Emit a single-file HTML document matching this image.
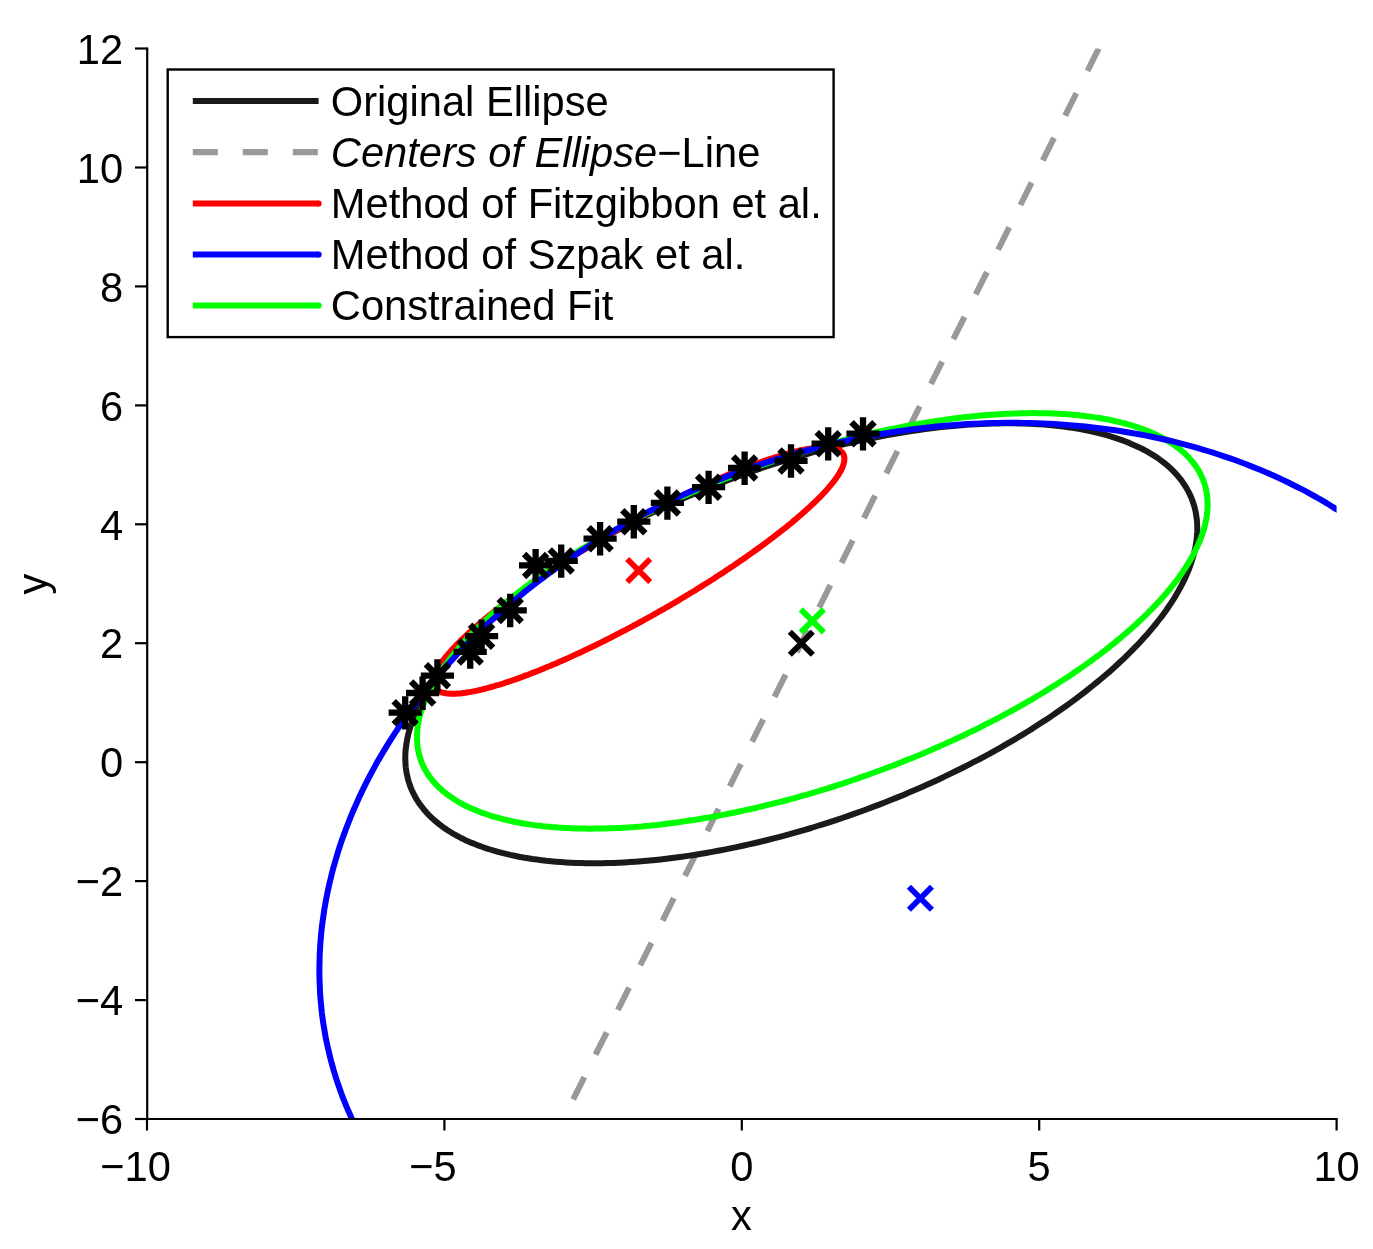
<!DOCTYPE html><html><head><meta charset="utf-8"><title>Ellipse fit</title><style>html,body{margin:0;padding:0;background:#fff}svg{display:block}</style></head><body><svg width="1373" height="1249" viewBox="0 0 1373 1249">
<rect width="1373" height="1249" fill="#fff"/>
<defs><clipPath id="ax"><rect x="147" y="48.5" width="1189.6" height="1070.5"/></clipPath>
<g id="xm"><path d="M-11.5,-11.5L11.5,11.5M-11.5,11.5L11.5,-11.5" fill="none" stroke-width="5.8"/></g>
<g id="st"><path d="M-16.6,0H16.6M0,-16.5V16.9M-11.5,-11.4L11.5,11.6M-11.5,11.6L11.5,-11.4" fill="none" stroke="#000" stroke-width="6.3"/></g>
</defs>
<g clip-path="url(#ax)" fill="none" stroke-linejoin="round">
<path d="M1098.7,48.5L563.4,1119.0" stroke="#999" stroke-width="6" stroke-dasharray="25 25"/>
<path d="M1192.5,500.8 L1193.4,503.5 L1194.3,506.2 L1195.0,508.9 L1195.6,511.7 L1196.1,514.5 L1196.5,517.3 L1196.9,520.1 L1197.1,523.0 L1197.2,525.9 L1197.3,528.9 L1197.2,531.9 L1197.0,534.9 L1196.8,537.9 L1196.4,541.0 L1195.9,544.0 L1195.4,547.1 L1194.7,550.3 L1194.0,553.4 L1193.1,556.6 L1192.2,559.8 L1191.1,563.0 L1190.0,566.2 L1188.8,569.5 L1187.4,572.8 L1186.0,576.1 L1184.5,579.4 L1182.9,582.7 L1181.2,586.0 L1179.3,589.4 L1177.4,592.7 L1175.5,596.1 L1173.4,599.5 L1171.2,602.9 L1168.9,606.3 L1166.6,609.7 L1164.1,613.2 L1161.6,616.6 L1158.9,620.0 L1156.2,623.5 L1153.4,626.9 L1150.5,630.4 L1147.5,633.9 L1144.4,637.3 L1141.3,640.8 L1138.1,644.2 L1134.7,647.7 L1131.3,651.2 L1127.8,654.6 L1124.3,658.1 L1120.6,661.5 L1116.9,665.0 L1113.1,668.4 L1109.2,671.9 L1105.3,675.3 L1101.2,678.7 L1097.1,682.1 L1092.9,685.5 L1088.7,688.9 L1084.4,692.3 L1080.0,695.7 L1075.5,699.1 L1071.0,702.4 L1066.4,705.7 L1061.7,709.0 L1057.0,712.3 L1052.2,715.6 L1047.3,718.9 L1042.4,722.1 L1037.4,725.3 L1032.4,728.6 L1027.3,731.7 L1022.2,734.9 L1017.0,738.0 L1011.7,741.1 L1006.4,744.2 L1001.0,747.3 L995.6,750.3 L990.2,753.4 L984.7,756.3 L979.1,759.3 L973.5,762.2 L967.9,765.1 L962.2,768.0 L956.5,770.8 L950.7,773.6 L944.9,776.4 L939.1,779.2 L933.2,781.9 L927.4,784.5 L921.4,787.2 L915.5,789.8 L909.5,792.3 L903.5,794.9 L897.4,797.4 L891.4,799.8 L885.3,802.2 L879.2,804.6 L873.1,806.9 L866.9,809.2 L860.8,811.5 L854.6,813.7 L848.4,815.9 L842.2,818.0 L836.0,820.1 L829.8,822.1 L823.6,824.1 L817.3,826.0 L811.1,828.0 L804.9,829.8 L798.6,831.6 L792.4,833.4 L786.2,835.1 L779.9,836.8 L773.7,838.4 L767.5,840.0 L761.3,841.5 L755.1,843.0 L748.9,844.4 L742.7,845.8 L736.6,847.1 L730.4,848.4 L724.3,849.6 L718.2,850.8 L712.1,851.9 L706.0,853.0 L700.0,854.0 L694.0,855.0 L688.0,855.9 L682.0,856.7 L676.1,857.5 L670.2,858.3 L664.3,859.0 L658.5,859.7 L652.7,860.3 L646.9,860.8 L641.2,861.3 L635.5,861.7 L629.9,862.1 L624.3,862.4 L618.7,862.7 L613.2,862.9 L607.8,863.1 L602.4,863.2 L597.0,863.2 L591.7,863.2 L586.4,863.2 L581.2,863.1 L576.0,862.9 L570.9,862.7 L565.9,862.4 L560.9,862.1 L556.0,861.7 L551.1,861.2 L546.3,860.8 L541.6,860.2 L536.9,859.6 L532.3,859.0 L527.8,858.2 L523.3,857.5 L518.9,856.7 L514.5,855.8 L510.3,854.9 L506.1,853.9 L502.0,852.9 L497.9,851.8 L493.9,850.7 L490.0,849.5 L486.2,848.3 L482.5,847.0 L478.8,845.7 L475.3,844.3 L471.8,842.9 L468.3,841.4 L465.0,839.9 L461.8,838.3 L458.6,836.6 L455.5,835.0 L452.5,833.3 L449.6,831.5 L446.8,829.7 L444.0,827.8 L441.4,825.9 L438.8,823.9 L436.4,821.9 L434.0,819.9 L431.7,817.8 L429.5,815.7 L427.4,813.5 L425.4,811.3 L423.5,809.0 L421.7,806.7 L419.9,804.4 L418.3,802.0 L416.8,799.6 L415.3,797.2 L414.0,794.7 L412.7,792.1 L411.6,789.6 L410.5,787.0 L409.6,784.3 L408.7,781.6 L407.9,778.9 L407.3,776.2 L406.7,773.4 L406.2,770.6 L405.8,767.8 L405.6,764.9 L405.4,762.0 L405.3,759.1 L405.3,756.1 L405.4,753.1 L405.6,750.1 L406.0,747.1 L406.4,744.0 L406.9,740.9 L407.5,737.8 L408.2,734.6 L409.0,731.5 L409.9,728.3 L410.9,725.1 L412.0,721.9 L413.2,718.6 L414.4,715.4 L415.8,712.1 L417.3,708.8 L418.9,705.5 L420.5,702.1 L422.3,698.8 L424.1,695.4 L426.1,692.1 L428.1,688.7 L430.3,685.3 L432.5,681.9 L434.8,678.5 L437.2,675.0 L439.7,671.6 L442.3,668.2 L445.0,664.7 L447.7,661.3 L450.6,657.8 L453.5,654.4 L456.6,650.9 L459.7,647.4 L462.9,644.0 L466.2,640.5 L469.5,637.0 L473.0,633.6 L476.5,630.1 L480.1,626.7 L483.8,623.2 L487.5,619.8 L491.4,616.3 L495.3,612.9 L499.3,609.5 L503.4,606.0 L507.5,602.6 L511.7,599.2 L516.0,595.8 L520.4,592.5 L524.8,589.1 L529.3,585.8 L533.9,582.4 L538.5,579.1 L543.2,575.8 L548.0,572.5 L552.8,569.2 L557.7,566.0 L562.6,562.7 L567.6,559.5 L572.7,556.3 L577.8,553.2 L583.0,550.0 L588.2,546.9 L593.5,543.8 L598.8,540.7 L604.2,537.7 L609.7,534.6 L615.1,531.6 L620.7,528.7 L626.2,525.7 L631.9,522.8 L637.5,519.9 L643.2,517.1 L648.9,514.2 L654.7,511.5 L660.5,508.7 L666.4,506.0 L672.3,503.3 L678.2,500.6 L684.1,498.0 L690.1,495.4 L696.1,492.9 L702.1,490.4 L708.1,487.9 L714.2,485.5 L720.3,483.1 L726.4,480.7 L732.6,478.4 L738.7,476.1 L744.9,473.9 L751.1,471.7 L757.2,469.6 L763.4,467.4 L769.7,465.4 L775.9,463.4 L782.1,461.4 L788.3,459.5 L794.6,457.6 L800.8,455.8 L807.0,454.0 L813.3,452.2 L819.5,450.5 L825.7,448.9 L832.0,447.3 L838.2,445.7 L844.4,444.2 L850.6,442.8 L856.7,441.4 L862.9,440.0 L869.1,438.7 L875.2,437.5 L881.3,436.3 L887.4,435.1 L893.5,434.0 L899.5,433.0 L905.6,432.0 L911.6,431.1 L917.5,430.2 L923.5,429.3 L929.4,428.5 L935.3,427.8 L941.1,427.1 L947.0,426.5 L952.7,426.0 L958.5,425.4 L964.2,425.0 L969.8,424.6 L975.5,424.2 L981.0,423.9 L986.6,423.7 L992.1,423.5 L997.5,423.4 L1002.9,423.3 L1008.2,423.3 L1013.5,423.3 L1018.8,423.4 L1024.0,423.5 L1029.1,423.7 L1034.2,423.9 L1039.2,424.2 L1044.1,424.6 L1049.0,425.0 L1053.8,425.5 L1058.6,426.0 L1063.3,426.6 L1068.0,427.2 L1072.5,427.9 L1077.1,428.6 L1081.5,429.4 L1085.9,430.2 L1090.2,431.1 L1094.4,432.1 L1098.6,433.1 L1102.6,434.1 L1106.6,435.2 L1110.6,436.4 L1114.4,437.6 L1118.2,438.8 L1121.9,440.1 L1125.5,441.5 L1129.1,442.9 L1132.5,444.4 L1135.9,445.9 L1139.2,447.4 L1142.4,449.0 L1145.5,450.7 L1148.6,452.4 L1151.5,454.1 L1154.4,455.9 L1157.2,457.7 L1159.8,459.6 L1162.5,461.6 L1165.0,463.5 L1167.4,465.6 L1169.7,467.6 L1172.0,469.7 L1174.1,471.9 L1176.2,474.1 L1178.1,476.3 L1180.0,478.6 L1181.8,480.9 L1183.4,483.3 L1185.0,485.7 L1186.5,488.1 L1187.9,490.6 L1189.2,493.1 L1190.4,495.6 L1191.5,498.2 L1192.5,500.8Z" stroke="#1a1a1a" stroke-width="6"/>
<path d="M434.3,687.2 L434.0,686.7 L433.8,686.3 L433.6,685.9 L433.5,685.4 L433.3,684.9 L433.2,684.4 L433.1,683.9 L433.1,683.4 L433.0,682.9 L433.0,682.4 L433.0,681.8 L433.0,681.3 L433.1,680.7 L433.1,680.1 L433.2,679.5 L433.3,678.9 L433.5,678.3 L433.6,677.6 L433.8,677.0 L434.0,676.3 L434.2,675.7 L434.5,675.0 L434.8,674.3 L435.0,673.6 L435.4,672.9 L435.7,672.1 L436.1,671.4 L436.4,670.7 L436.8,669.9 L437.3,669.1 L437.7,668.3 L438.2,667.6 L438.7,666.7 L439.2,665.9 L439.7,665.1 L440.3,664.3 L440.9,663.4 L441.5,662.6 L442.1,661.7 L442.7,660.8 L443.4,660.0 L444.1,659.1 L444.8,658.2 L445.5,657.2 L446.3,656.3 L447.1,655.4 L447.9,654.4 L448.7,653.5 L449.5,652.5 L450.4,651.6 L451.2,650.6 L452.1,649.6 L453.1,648.6 L454.0,647.6 L455.0,646.6 L455.9,645.6 L456.9,644.5 L458.0,643.5 L459.0,642.4 L460.1,641.4 L461.1,640.3 L462.2,639.3 L463.4,638.2 L464.5,637.1 L465.7,636.0 L466.8,634.9 L468.0,633.8 L469.2,632.7 L470.5,631.6 L471.7,630.4 L473.0,629.3 L474.3,628.2 L475.6,627.0 L476.9,625.9 L478.2,624.7 L479.6,623.6 L481.0,622.4 L482.4,621.2 L483.8,620.0 L485.2,618.8 L486.7,617.6 L488.1,616.4 L489.6,615.2 L491.1,614.0 L492.6,612.8 L494.1,611.6 L495.7,610.4 L497.2,609.2 L498.8,607.9 L500.4,606.7 L502.0,605.5 L503.6,604.2 L505.3,603.0 L506.9,601.7 L508.6,600.5 L510.2,599.2 L511.9,598.0 L513.6,596.7 L515.4,595.4 L517.1,594.2 L518.8,592.9 L520.6,591.6 L522.4,590.3 L524.2,589.1 L526.0,587.8 L527.8,586.5 L529.6,585.2 L531.4,583.9 L533.3,582.7 L535.1,581.4 L537.0,580.1 L538.9,578.8 L540.8,577.5 L542.7,576.2 L544.6,574.9 L546.5,573.6 L548.5,572.3 L550.4,571.0 L552.4,569.7 L554.3,568.4 L556.3,567.2 L558.3,565.9 L560.3,564.6 L562.3,563.3 L564.3,562.0 L566.3,560.7 L568.3,559.4 L570.3,558.1 L572.4,556.8 L574.4,555.6 L576.5,554.3 L578.5,553.0 L580.6,551.7 L582.7,550.4 L584.8,549.2 L586.8,547.9 L588.9,546.6 L591.0,545.4 L593.1,544.1 L595.2,542.8 L597.3,541.6 L599.5,540.3 L601.6,539.1 L603.7,537.8 L605.8,536.6 L608.0,535.3 L610.1,534.1 L612.2,532.9 L614.4,531.6 L616.5,530.4 L618.7,529.2 L620.8,528.0 L623.0,526.8 L625.1,525.5 L627.3,524.3 L629.4,523.1 L631.6,522.0 L633.7,520.8 L635.9,519.6 L638.1,518.4 L640.2,517.2 L642.4,516.1 L644.5,514.9 L646.7,513.8 L648.8,512.6 L651.0,511.5 L653.2,510.4 L655.3,509.2 L657.5,508.1 L659.6,507.0 L661.7,505.9 L663.9,504.8 L666.0,503.7 L668.2,502.6 L670.3,501.6 L672.4,500.5 L674.6,499.4 L676.7,498.4 L678.8,497.3 L680.9,496.3 L683.0,495.3 L685.1,494.2 L687.2,493.2 L689.3,492.2 L691.4,491.2 L693.5,490.2 L695.6,489.3 L697.6,488.3 L699.7,487.3 L701.8,486.4 L703.8,485.5 L705.9,484.5 L707.9,483.6 L709.9,482.7 L711.9,481.8 L713.9,480.9 L716.0,480.0 L717.9,479.1 L719.9,478.3 L721.9,477.4 L723.9,476.6 L725.8,475.7 L727.8,474.9 L729.7,474.1 L731.7,473.3 L733.6,472.5 L735.5,471.7 L737.4,471.0 L739.3,470.2 L741.2,469.5 L743.0,468.7 L744.9,468.0 L746.7,467.3 L748.5,466.6 L750.4,465.9 L752.2,465.2 L754.0,464.6 L755.7,463.9 L757.5,463.3 L759.3,462.6 L761.0,462.0 L762.7,461.4 L764.4,460.8 L766.1,460.2 L767.8,459.7 L769.5,459.1 L771.2,458.5 L772.8,458.0 L774.4,457.5 L776.1,457.0 L777.7,456.5 L779.2,456.0 L780.8,455.5 L782.4,455.1 L783.9,454.6 L785.4,454.2 L786.9,453.8 L788.4,453.3 L789.9,453.0 L791.3,452.6 L792.8,452.2 L794.2,451.8 L795.6,451.5 L797.0,451.2 L798.3,450.9 L799.7,450.5 L801.0,450.3 L802.4,450.0 L803.6,449.7 L804.9,449.5 L806.2,449.2 L807.4,449.0 L808.7,448.8 L809.9,448.6 L811.1,448.4 L812.2,448.2 L813.4,448.1 L814.5,447.9 L815.6,447.8 L816.7,447.7 L817.8,447.6 L818.8,447.5 L819.9,447.4 L820.9,447.3 L821.9,447.3 L822.8,447.3 L823.8,447.2 L824.7,447.2 L825.6,447.2 L826.5,447.3 L827.4,447.3 L828.2,447.3 L829.1,447.4 L829.9,447.5 L830.7,447.5 L831.4,447.6 L832.2,447.8 L832.9,447.9 L833.6,448.0 L834.3,448.2 L834.9,448.3 L835.6,448.5 L836.2,448.7 L836.8,448.9 L837.3,449.1 L837.9,449.4 L838.4,449.6 L838.9,449.9 L839.4,450.2 L839.9,450.4 L840.3,450.7 L840.7,451.1 L841.1,451.4 L841.5,451.7 L841.8,452.1 L842.2,452.4 L842.5,452.8 L842.8,453.2 L843.0,453.6 L843.3,454.0 L843.5,454.5 L843.7,454.9 L843.8,455.4 L844.0,455.8 L844.1,456.3 L844.2,456.8 L844.3,457.3 L844.4,457.8 L844.4,458.4 L844.4,458.9 L844.4,459.5 L844.4,460.0 L844.3,460.6 L844.2,461.2 L844.1,461.8 L844.0,462.4 L843.9,463.1 L843.7,463.7 L843.5,464.3 L843.3,465.0 L843.0,465.7 L842.8,466.4 L842.5,467.1 L842.2,467.8 L841.9,468.5 L841.5,469.2 L841.2,470.0 L840.8,470.7 L840.3,471.5 L839.9,472.3 L839.5,473.1 L839.0,473.8 L838.5,474.7 L837.9,475.5 L837.4,476.3 L836.8,477.1 L836.2,478.0 L835.6,478.9 L835.0,479.7 L834.3,480.6 L833.7,481.5 L833.0,482.4 L832.2,483.3 L831.5,484.2 L830.7,485.1 L829.9,486.1 L829.1,487.0 L828.3,488.0 L827.5,489.0 L826.6,489.9 L825.7,490.9 L824.8,491.9 L823.9,492.9 L822.9,493.9 L822.0,494.9 L821.0,496.0 L820.0,497.0 L818.9,498.0 L817.9,499.1 L816.8,500.1 L815.7,501.2 L814.6,502.3 L813.5,503.4 L812.3,504.4 L811.2,505.5 L810.0,506.6 L808.8,507.8 L807.5,508.9 L806.3,510.0 L805.0,511.1 L803.8,512.3 L802.5,513.4 L801.2,514.5 L799.8,515.7 L798.5,516.9 L797.1,518.0 L795.7,519.2 L794.3,520.4 L792.9,521.6 L791.5,522.8 L790.0,524.0 L788.5,525.2 L787.1,526.4 L785.6,527.6 L784.0,528.8 L782.5,530.0 L780.9,531.2 L779.4,532.5 L777.8,533.7 L776.2,534.9 L774.6,536.2 L773.0,537.4 L771.3,538.7 L769.7,539.9 L768.0,541.2 L766.3,542.4 L764.6,543.7 L762.9,544.9 L761.2,546.2 L759.4,547.5 L757.7,548.7 L755.9,550.0 L754.1,551.3 L752.3,552.6 L750.5,553.9 L748.7,555.1 L746.9,556.4 L745.0,557.7 L743.2,559.0 L741.3,560.3 L739.4,561.6 L737.6,562.9 L735.7,564.1 L733.8,565.4 L731.8,566.7 L729.9,568.0 L728.0,569.3 L726.0,570.6 L724.1,571.9 L722.1,573.2 L720.1,574.5 L718.1,575.8 L716.1,577.1 L714.1,578.4 L712.1,579.7 L710.1,580.9 L708.1,582.2 L706.0,583.5 L704.0,584.8 L701.9,586.1 L699.9,587.4 L697.8,588.6 L695.8,589.9 L693.7,591.2 L691.6,592.5 L689.5,593.7 L687.4,595.0 L685.3,596.3 L683.2,597.5 L681.1,598.8 L679.0,600.1 L676.9,601.3 L674.8,602.6 L672.6,603.8 L670.5,605.1 L668.4,606.3 L666.2,607.5 L664.1,608.8 L661.9,610.0 L659.8,611.2 L657.7,612.4 L655.5,613.6 L653.4,614.9 L651.2,616.1 L649.0,617.3 L646.9,618.4 L644.7,619.6 L642.6,620.8 L640.4,622.0 L638.3,623.2 L636.1,624.3 L633.9,625.5 L631.8,626.6 L629.6,627.8 L627.5,628.9 L625.3,630.1 L623.2,631.2 L621.0,632.3 L618.9,633.4 L616.7,634.5 L614.6,635.6 L612.4,636.7 L610.3,637.8 L608.2,638.9 L606.0,640.0 L603.9,641.0 L601.8,642.1 L599.7,643.2 L597.5,644.2 L595.4,645.2 L593.3,646.2 L591.2,647.3 L589.1,648.3 L587.0,649.3 L584.9,650.3 L582.9,651.2 L580.8,652.2 L578.7,653.2 L576.7,654.1 L574.6,655.1 L572.6,656.0 L570.5,656.9 L568.5,657.9 L566.5,658.8 L564.5,659.7 L562.4,660.6 L560.4,661.4 L558.5,662.3 L556.5,663.2 L554.5,664.0 L552.5,664.8 L550.6,665.7 L548.6,666.5 L546.7,667.3 L544.8,668.1 L542.9,668.9 L541.0,669.6 L539.1,670.4 L537.2,671.2 L535.3,671.9 L533.5,672.6 L531.6,673.3 L529.8,674.1 L527.9,674.8 L526.1,675.4 L524.3,676.1 L522.5,676.8 L520.8,677.4 L519.0,678.1 L517.3,678.7 L515.5,679.3 L513.8,679.9 L512.1,680.5 L510.4,681.1 L508.7,681.6 L507.1,682.2 L505.4,682.7 L503.8,683.3 L502.2,683.8 L500.5,684.3 L499.0,684.8 L497.4,685.2 L495.8,685.7 L494.3,686.2 L492.7,686.6 L491.2,687.0 L489.7,687.4 L488.3,687.9 L486.8,688.2 L485.3,688.6 L483.9,689.0 L482.5,689.3 L481.1,689.7 L479.7,690.0 L478.4,690.3 L477.0,690.6 L475.7,690.9 L474.4,691.2 L473.1,691.4 L471.8,691.7 L470.6,691.9 L469.4,692.1 L468.1,692.3 L466.9,692.5 L465.8,692.7 L464.6,692.8 L463.5,693.0 L462.3,693.1 L461.2,693.3 L460.2,693.4 L459.1,693.5 L458.1,693.6 L457.0,693.6 L456.0,693.7 L455.1,693.7 L454.1,693.8 L453.1,693.8 L452.2,693.8 L451.3,693.8 L450.4,693.7 L449.6,693.7 L448.7,693.6 L447.9,693.6 L447.1,693.5 L446.4,693.4 L445.6,693.3 L444.9,693.2 L444.2,693.0 L443.5,692.9 L442.8,692.7 L442.2,692.6 L441.5,692.4 L440.9,692.2 L440.3,692.0 L439.8,691.7 L439.2,691.5 L438.7,691.2 L438.2,691.0 L437.8,690.7 L437.3,690.4 L436.9,690.1 L436.5,689.8 L436.1,689.4 L435.7,689.1 L435.4,688.7 L435.1,688.4 L434.8,688.0 L434.5,687.6 L434.3,687.2Z" stroke="#f00" stroke-width="6"/>
<path d="M420.8,760.1 L420.3,758.4 L419.8,756.8 L419.3,755.2 L418.9,753.5 L418.5,751.8 L418.1,750.1 L417.9,748.4 L417.6,746.7 L417.4,744.9 L417.2,743.2 L417.1,741.4 L417.0,739.6 L417.0,737.8 L417.0,736.0 L417.1,734.2 L417.2,732.4 L417.3,730.5 L417.5,728.6 L417.7,726.8 L418.0,724.9 L418.3,723.0 L418.7,721.1 L419.1,719.2 L419.5,717.3 L420.0,715.3 L420.5,713.4 L421.1,711.4 L421.7,709.5 L422.4,707.5 L423.1,705.5 L423.8,703.5 L424.6,701.5 L425.4,699.5 L426.3,697.5 L427.2,695.4 L428.2,693.4 L429.2,691.3 L430.2,689.3 L431.3,687.2 L432.4,685.2 L433.6,683.1 L434.8,681.0 L436.1,678.9 L437.4,676.8 L438.7,674.7 L440.1,672.6 L441.5,670.5 L442.9,668.4 L444.4,666.3 L446.0,664.1 L447.6,662.0 L449.2,659.9 L450.8,657.7 L452.5,655.6 L454.3,653.4 L456.0,651.3 L457.9,649.1 L459.7,646.9 L461.6,644.8 L463.5,642.6 L465.5,640.4 L467.5,638.3 L469.6,636.1 L471.7,633.9 L473.8,631.7 L475.9,629.6 L478.1,627.4 L480.4,625.2 L482.6,623.0 L485.0,620.9 L487.3,618.7 L489.7,616.5 L492.1,614.3 L494.5,612.1 L497.0,610.0 L499.5,607.8 L502.1,605.6 L504.7,603.4 L507.3,601.3 L510.0,599.1 L512.6,596.9 L515.4,594.8 L518.1,592.6 L520.9,590.5 L523.7,588.3 L526.6,586.2 L529.4,584.0 L532.4,581.9 L535.3,579.7 L538.3,577.6 L541.3,575.5 L544.3,573.3 L547.4,571.2 L550.5,569.1 L553.6,567.0 L556.7,564.9 L559.9,562.8 L563.1,560.7 L566.4,558.6 L569.6,556.6 L572.9,554.5 L576.2,552.4 L579.6,550.4 L582.9,548.3 L586.3,546.3 L589.7,544.3 L593.2,542.2 L596.6,540.2 L600.1,538.2 L603.6,536.2 L607.2,534.2 L610.7,532.3 L614.3,530.3 L617.9,528.3 L621.5,526.4 L625.1,524.5 L628.8,522.5 L632.5,520.6 L636.2,518.7 L639.9,516.8 L643.7,514.9 L647.4,513.1 L651.2,511.2 L655.0,509.4 L658.8,507.5 L662.6,505.7 L666.5,503.9 L670.3,502.1 L674.2,500.3 L678.1,498.6 L682.0,496.8 L685.9,495.1 L689.9,493.3 L693.8,491.6 L697.8,489.9 L701.8,488.2 L705.7,486.6 L709.7,484.9 L713.8,483.3 L717.8,481.7 L721.8,480.0 L725.9,478.5 L729.9,476.9 L734.0,475.3 L738.0,473.8 L742.1,472.2 L746.2,470.7 L750.3,469.2 L754.4,467.7 L758.5,466.3 L762.6,464.8 L766.7,463.4 L770.8,462.0 L775.0,460.6 L779.1,459.2 L783.2,457.9 L787.4,456.5 L791.5,455.2 L795.6,453.9 L799.8,452.6 L803.9,451.3 L808.1,450.1 L812.2,448.9 L816.4,447.6 L820.5,446.4 L824.7,445.3 L828.8,444.1 L832.9,443.0 L837.1,441.9 L841.2,440.8 L845.4,439.7 L849.5,438.6 L853.6,437.6 L857.7,436.6 L861.9,435.6 L866.0,434.6 L870.1,433.7 L874.2,432.7 L878.3,431.8 L882.3,430.9 L886.4,430.0 L890.5,429.2 L894.5,428.4 L898.6,427.6 L902.6,426.8 L906.7,426.0 L910.7,425.3 L914.7,424.5 L918.7,423.8 L922.7,423.2 L926.7,422.5 L930.6,421.9 L934.6,421.3 L938.5,420.7 L942.4,420.1 L946.3,419.5 L950.2,419.0 L954.1,418.5 L958.0,418.0 L961.8,417.6 L965.7,417.1 L969.5,416.7 L973.3,416.3 L977.0,416.0 L980.8,415.6 L984.5,415.3 L988.3,415.0 L992.0,414.7 L995.7,414.5 L999.3,414.2 L1003.0,414.0 L1006.6,413.8 L1010.2,413.7 L1013.8,413.5 L1017.3,413.4 L1020.9,413.3 L1024.4,413.2 L1027.9,413.2 L1031.3,413.1 L1034.8,413.1 L1038.2,413.2 L1041.6,413.2 L1044.9,413.3 L1048.3,413.3 L1051.6,413.5 L1054.9,413.6 L1058.1,413.7 L1061.4,413.9 L1064.6,414.1 L1067.7,414.3 L1070.9,414.6 L1074.0,414.9 L1077.1,415.1 L1080.2,415.5 L1083.2,415.8 L1086.2,416.2 L1089.2,416.5 L1092.1,416.9 L1095.0,417.4 L1097.9,417.8 L1100.8,418.3 L1103.6,418.8 L1106.4,419.3 L1109.1,419.8 L1111.9,420.4 L1114.5,421.0 L1117.2,421.6 L1119.8,422.2 L1122.4,422.9 L1125.0,423.5 L1127.5,424.2 L1130.0,424.9 L1132.4,425.7 L1134.8,426.4 L1137.2,427.2 L1139.6,428.0 L1141.9,428.8 L1144.1,429.7 L1146.4,430.5 L1148.6,431.4 L1150.7,432.3 L1152.9,433.2 L1154.9,434.2 L1157.0,435.1 L1159.0,436.1 L1161.0,437.1 L1162.9,438.2 L1164.8,439.2 L1166.7,440.3 L1168.5,441.4 L1170.3,442.5 L1172.0,443.6 L1173.7,444.7 L1175.4,445.9 L1177.0,447.1 L1178.6,448.3 L1180.1,449.5 L1181.6,450.8 L1183.1,452.0 L1184.5,453.3 L1185.9,454.6 L1187.2,455.9 L1188.5,457.2 L1189.7,458.6 L1190.9,460.0 L1192.1,461.3 L1193.2,462.8 L1194.3,464.2 L1195.4,465.6 L1196.4,467.1 L1197.3,468.5 L1198.3,470.0 L1199.1,471.5 L1200.0,473.1 L1200.8,474.6 L1201.5,476.2 L1202.2,477.7 L1202.9,479.3 L1203.5,480.9 L1204.1,482.5 L1204.6,484.2 L1205.1,485.8 L1205.5,487.5 L1205.9,489.2 L1206.3,490.9 L1206.6,492.6 L1206.9,494.3 L1207.1,496.0 L1207.3,497.8 L1207.4,499.5 L1207.5,501.3 L1207.6,503.1 L1207.6,504.9 L1207.6,506.7 L1207.5,508.5 L1207.4,510.4 L1207.2,512.2 L1207.0,514.1 L1206.8,516.0 L1206.5,517.8 L1206.1,519.7 L1205.7,521.7 L1205.3,523.6 L1204.9,525.5 L1204.4,527.4 L1203.8,529.4 L1203.2,531.4 L1202.6,533.3 L1201.9,535.3 L1201.2,537.3 L1200.4,539.3 L1199.6,541.3 L1198.7,543.3 L1197.8,545.4 L1196.9,547.4 L1195.9,549.4 L1194.9,551.5 L1193.8,553.5 L1192.7,555.6 L1191.6,557.7 L1190.4,559.8 L1189.2,561.8 L1187.9,563.9 L1186.6,566.0 L1185.2,568.1 L1183.8,570.2 L1182.4,572.4 L1180.9,574.5 L1179.4,576.6 L1177.8,578.7 L1176.2,580.9 L1174.6,583.0 L1172.9,585.2 L1171.2,587.3 L1169.4,589.5 L1167.6,591.6 L1165.8,593.8 L1163.9,595.9 L1162.0,598.1 L1160.1,600.3 L1158.1,602.4 L1156.1,604.6 L1154.0,606.8 L1151.9,609.0 L1149.7,611.1 L1147.6,613.3 L1145.3,615.5 L1143.1,617.7 L1140.8,619.9 L1138.5,622.0 L1136.1,624.2 L1133.7,626.4 L1131.3,628.6 L1128.8,630.7 L1126.3,632.9 L1123.8,635.1 L1121.2,637.3 L1118.6,639.4 L1116.0,641.6 L1113.3,643.8 L1110.6,645.9 L1107.9,648.1 L1105.1,650.3 L1102.3,652.4 L1099.5,654.6 L1096.6,656.7 L1093.7,658.9 L1090.8,661.0 L1087.8,663.1 L1084.8,665.3 L1081.8,667.4 L1078.8,669.5 L1075.7,671.6 L1072.6,673.8 L1069.4,675.9 L1066.3,678.0 L1063.1,680.0 L1059.9,682.1 L1056.6,684.2 L1053.3,686.3 L1050.0,688.3 L1046.7,690.4 L1043.4,692.5 L1040.0,694.5 L1036.6,696.5 L1033.2,698.6 L1029.7,700.6 L1026.2,702.6 L1022.7,704.6 L1019.2,706.6 L1015.7,708.6 L1012.1,710.5 L1008.5,712.5 L1004.9,714.4 L1001.3,716.4 L997.6,718.3 L994.0,720.2 L990.3,722.1 L986.5,724.0 L982.8,725.9 L979.1,727.8 L975.3,729.7 L971.5,731.5 L967.7,733.3 L963.9,735.2 L960.0,737.0 L956.2,738.8 L952.3,740.6 L948.4,742.3 L944.5,744.1 L940.6,745.9 L936.7,747.6 L932.8,749.3 L928.8,751.0 L924.8,752.7 L920.8,754.4 L916.9,756.0 L912.8,757.7 L908.8,759.3 L904.8,760.9 L900.8,762.5 L896.7,764.1 L892.7,765.7 L888.6,767.3 L884.5,768.8 L880.5,770.3 L876.4,771.8 L872.3,773.3 L868.2,774.8 L864.1,776.2 L859.9,777.7 L855.8,779.1 L851.7,780.5 L847.6,781.9 L843.4,783.3 L839.3,784.6 L835.2,785.9 L831.0,787.3 L826.9,788.6 L822.7,789.8 L818.6,791.1 L814.4,792.3 L810.3,793.6 L806.2,794.8 L802.0,795.9 L797.9,797.1 L793.7,798.3 L789.6,799.4 L785.4,800.5 L781.3,801.6 L777.2,802.6 L773.0,803.7 L768.9,804.7 L764.8,805.7 L760.7,806.7 L756.6,807.7 L752.5,808.6 L748.4,809.5 L744.3,810.4 L740.2,811.3 L736.1,812.2 L732.1,813.0 L728.0,813.8 L724.0,814.6 L719.9,815.4 L715.9,816.2 L711.9,816.9 L707.9,817.6 L703.9,818.3 L699.9,819.0 L696.0,819.6 L692.0,820.2 L688.1,820.8 L684.1,821.4 L680.2,822.0 L676.3,822.5 L672.4,823.0 L668.5,823.5 L664.7,824.0 L660.9,824.4 L657.0,824.9 L653.2,825.3 L649.4,825.7 L645.7,826.0 L641.9,826.4 L638.2,826.7 L634.5,827.0 L630.8,827.2 L627.1,827.5 L623.5,827.7 L619.8,827.9 L616.2,828.1 L612.6,828.2 L609.1,828.3 L605.5,828.5 L602.0,828.5 L598.5,828.6 L595.0,828.6 L591.6,828.7 L588.1,828.7 L584.7,828.6 L581.4,828.6 L578.0,828.5 L574.7,828.4 L571.4,828.3 L568.1,828.1 L564.9,828.0 L561.6,827.8 L558.4,827.6 L555.3,827.3 L552.1,827.1 L549.0,826.8 L546.0,826.5 L542.9,826.2 L539.9,825.8 L536.9,825.5 L533.9,825.1 L531.0,824.6 L528.1,824.2 L525.2,823.7 L522.4,823.3 L519.6,822.8 L516.8,822.2 L514.1,821.7 L511.4,821.1 L508.7,820.5 L506.1,819.9 L503.5,819.3 L500.9,818.6 L498.4,817.9 L495.9,817.2 L493.4,816.5 L491.0,815.8 L488.6,815.0 L486.2,814.2 L483.9,813.4 L481.6,812.6 L479.3,811.7 L477.1,810.8 L474.9,809.9 L472.8,809.0 L470.7,808.1 L468.6,807.1 L466.6,806.2 L464.6,805.2 L462.6,804.2 L460.7,803.1 L458.9,802.1 L457.0,801.0 L455.2,799.9 L453.5,798.8 L451.7,797.6 L450.1,796.5 L448.4,795.3 L446.8,794.1 L445.3,792.9 L443.7,791.7 L442.3,790.4 L440.8,789.1 L439.4,787.9 L438.1,786.6 L436.8,785.2 L435.5,783.9 L434.3,782.5 L433.1,781.1 L431.9,779.8 L430.8,778.3 L429.7,776.9 L428.7,775.5 L427.7,774.0 L426.8,772.5 L425.9,771.0 L425.0,769.5 L424.2,768.0 L423.5,766.4 L422.7,764.9 L422.1,763.3 L421.4,761.7 L420.8,760.1Z" stroke="#0f0" stroke-width="6"/>
<path d="M333.6,1070.1 L332.3,1065.4 L331.0,1060.7 L329.8,1056.0 L328.7,1051.3 L327.6,1046.6 L326.6,1041.9 L325.6,1037.1 L324.8,1032.3 L324.0,1027.5 L323.2,1022.7 L322.5,1017.9 L321.9,1013.1 L321.4,1008.2 L320.9,1003.4 L320.5,998.5 L320.1,993.6 L319.9,988.7 L319.7,983.8 L319.5,978.9 L319.4,974.0 L319.4,969.1 L319.5,964.1 L319.6,959.2 L319.7,954.2 L320.0,949.3 L320.3,944.3 L320.7,939.4 L321.1,934.4 L321.6,929.4 L322.2,924.4 L322.9,919.5 L323.6,914.5 L324.3,909.5 L325.2,904.5 L326.1,899.5 L327.1,894.5 L328.1,889.6 L329.2,884.6 L330.4,879.6 L331.6,874.6 L332.9,869.6 L334.3,864.6 L335.7,859.7 L337.2,854.7 L338.7,849.7 L340.3,844.8 L342.0,839.8 L343.8,834.9 L345.6,829.9 L347.5,825.0 L349.4,820.1 L351.4,815.2 L353.4,810.3 L355.6,805.4 L357.8,800.5 L360.0,795.6 L362.3,790.8 L364.7,785.9 L367.1,781.1 L369.6,776.2 L372.2,771.4 L374.8,766.6 L377.4,761.8 L380.2,757.1 L383.0,752.3 L385.8,747.6 L388.7,742.9 L391.7,738.2 L394.7,733.5 L397.8,728.8 L401.0,724.1 L404.1,719.5 L407.4,714.9 L410.7,710.3 L414.1,705.7 L417.5,701.2 L421.0,696.7 L424.5,692.2 L428.1,687.7 L431.8,683.2 L435.5,678.8 L439.2,674.4 L443.0,670.0 L446.9,665.6 L450.8,661.3 L454.7,657.0 L458.7,652.7 L462.8,648.4 L466.9,644.2 L471.1,640.0 L475.3,635.8 L479.6,631.7 L483.9,627.6 L488.2,623.5 L492.6,619.4 L497.1,615.4 L501.6,611.4 L506.1,607.5 L510.7,603.5 L515.3,599.6 L520.0,595.8 L524.7,591.9 L529.5,588.1 L534.3,584.4 L539.2,580.6 L544.1,577.0 L549.0,573.3 L554.0,569.7 L559.0,566.1 L564.1,562.5 L569.1,559.0 L574.3,555.5 L579.5,552.1 L584.7,548.7 L589.9,545.4 L595.2,542.0 L600.5,538.7 L605.9,535.5 L611.3,532.3 L616.7,529.1 L622.1,526.0 L627.6,522.9 L633.1,519.9 L638.7,516.9 L644.3,513.9 L649.9,511.0 L655.5,508.1 L661.2,505.3 L666.9,502.5 L672.7,499.8 L678.4,497.1 L684.2,494.4 L690.0,491.8 L695.8,489.3 L701.7,486.7 L707.6,484.3 L713.5,481.8 L719.4,479.5 L725.4,477.1 L731.3,474.8 L737.3,472.6 L743.4,470.4 L749.4,468.2 L755.4,466.1 L761.5,464.1 L767.6,462.1 L773.7,460.1 L779.8,458.2 L786.0,456.3 L792.1,454.5 L798.3,452.7 L804.5,451.0 L810.7,449.4 L816.9,447.7 L823.1,446.2 L829.3,444.6 L835.5,443.2 L841.8,441.8 L848.0,440.4 L854.3,439.1 L860.6,437.8 L866.8,436.6 L873.1,435.4 L879.4,434.3 L885.7,433.2 L892.0,432.2 L898.3,431.3 L904.6,430.4 L910.9,429.5 L917.2,428.7 L923.5,427.9 L929.8,427.2 L936.1,426.6 L942.4,426.0 L948.7,425.4 L955.0,424.9 L961.3,424.5 L967.6,424.1 L973.9,423.7 L980.1,423.5 L986.4,423.2 L992.7,423.0 L998.9,422.9 L1005.2,422.8 L1011.4,422.8 L1017.6,422.8 L1023.9,422.9 L1030.1,423.0 L1036.3,423.2 L1042.4,423.4 L1048.6,423.7 L1054.7,424.1 L1060.9,424.5 L1067.0,424.9 L1073.1,425.4 L1079.2,426.0 L1085.3,426.6 L1091.3,427.2 L1097.4,427.9 L1103.4,428.7 L1109.4,429.5 L1115.3,430.3 L1121.3,431.2 L1127.2,432.2 L1133.1,433.2 L1139.0,434.3 L1144.9,435.4 L1150.7,436.5 L1156.5,437.8 L1162.3,439.0 L1168.1,440.3 L1173.8,441.7 L1179.5,443.1 L1185.2,444.6 L1190.8,446.1 L1196.4,447.7 L1202.0,449.3 L1207.6,451.0 L1213.1,452.7 L1218.6,454.5 L1224.0,456.3 L1229.5,458.1 L1234.9,460.0 L1240.2,462.0 L1245.5,464.0 L1250.8,466.1 L1256.1,468.2 L1261.3,470.3 L1266.4,472.5 L1271.6,474.7 L1276.7,477.0 L1281.7,479.4 L1286.8,481.8 L1291.7,484.2 L1296.7,486.7 L1301.6,489.2 L1306.4,491.7 L1311.2,494.4 L1316.0,497.0 L1320.7,499.7 L1325.4,502.4 L1330.0,505.2 L1334.6,508.1 L1339.2,510.9 L1343.7,513.8 L1348.1,516.8 L1352.5,519.8 L1356.9,522.8 L1361.2,525.9 L1365.4,529.0 L1369.7,532.2 L1373.8,535.4 L1377.9,538.6 L1382.0,541.9 L1386.0,545.2 L1390.0,548.6 L1393.9,552.0 L1397.7,555.4 L1401.5,558.9 L1405.3,562.4 L1409.0,566.0 L1412.6,569.6 L1416.2,573.2 L1419.8,576.8 L1423.2,580.5 L1426.7,584.3 L1430.0,588.0 L1433.3,591.8 L1436.6,595.6 L1439.8,599.5 L1442.9,603.4 L1446.0,607.3 L1449.1,611.3 L1452.0,615.3 L1454.9,619.3 L1457.8,623.4 L1460.6,627.4 L1463.3,631.6 L1466.0,635.7 L1468.6,639.9 L1471.2,644.1 L1473.7,648.3 L1476.1,652.6 L1478.5,656.8 L1480.8,661.2 L1483.0,665.5 L1485.2,669.8 L1487.3,674.2 L1489.4,678.6 L1491.4,683.1 L1493.3,687.5 L1495.2,692.0 L1497.0,696.5 L1498.7,701.1 L1500.4,705.6 L1502.0,710.2 L1503.6,714.8 L1505.1,719.4 L1506.5,724.0 L1507.9,728.7 L1509.2,733.3 L1510.4,738.0 L1511.6,742.7 L1512.7,747.4 L1513.7,752.2 L1514.7,756.9 L1515.6,761.7 L1516.4,766.5 L1517.2,771.3 L1517.9,776.1 L1518.6,780.9 L1519.1,785.8 L1519.7,790.6 L1520.1,795.5 L1520.5,800.3 L1520.8,805.2 L1521.0,810.1 L1521.2,815.0 L1521.3,819.9 L1521.4,824.9 L1521.4,829.8 L1521.3,834.7 L1521.2,839.7 L1520.9,844.6 L1520.7,849.6 L1520.3,854.6 L1519.9,859.5 L1519.4,864.5 L1518.9,869.5 L1518.3,874.4 L1517.6,879.4 L1516.8,884.4 L1516.0,889.4 L1515.2,894.4 L1514.2,899.4 L1513.2,904.4 L1512.2,909.3 L1511.0,914.3 L1509.8,919.3 L1508.6,924.3 L1507.2,929.3 L1505.8,934.2 L1504.4,939.2 L1502.9,944.2 L1501.3,949.1 L1499.6,954.1 L1497.9,959.0 L1496.1,964.0 L1494.3,968.9 L1492.4,973.8 L1490.4,978.8 L1488.4,983.7 L1486.3,988.6 L1484.1,993.5 L1481.9,998.3 L1479.7,1003.2 L1477.3,1008.1 L1474.9,1012.9 L1472.5,1017.8 L1469.9,1022.6 L1467.3,1027.4 L1464.7,1032.2 L1462.0,1036.9 L1459.2,1041.7 L1456.4,1046.5 L1453.5,1051.2 L1450.6,1055.9 L1447.6,1060.6 L1444.5,1065.3 L1441.4,1069.9 L1438.3,1074.6 L1435.0,1079.2 L1431.7,1083.8 L1428.4,1088.4 L1425.0,1092.9 L1421.6,1097.5 L1418.0,1102.0 L1414.5,1106.5 L1410.9,1111.0 L1407.2,1115.4 L1403.5,1119.8 L1399.7,1124.2 L1395.9,1128.6 L1392.0,1132.9 L1388.1,1137.3 L1384.1,1141.6 L1380.0,1145.8 L1375.9,1150.1 L1371.8,1154.3 L1367.6,1158.5 L1363.4,1162.6 L1359.1,1166.8 L1354.8,1170.9 L1350.4,1174.9 L1346.0,1179.0 L1341.5,1183.0 L1337.0,1187.0 L1332.4,1190.9 L1327.8,1194.8 L1323.1,1198.7 L1318.4,1202.6 L1313.7,1206.4 L1308.9,1210.1 L1304.1,1213.9 L1299.2,1217.6 L1294.3,1221.3 L1289.3,1224.9 L1284.3,1228.5 L1279.3,1232.1 L1274.2,1235.6 L1269.1,1239.1 L1263.9,1242.6 L1258.7,1246.0 L1253.5,1249.4 L1248.3,1252.7 L1242.9,1256.0 L1237.6,1259.3 L1232.2,1262.5 L1226.8,1265.7 L1221.4,1268.8 L1215.9,1271.9 L1210.4,1275.0 L1204.9,1278.0 L1199.3,1281.0 L1193.7,1283.9 L1188.1,1286.8 L1182.4,1289.7 L1176.7,1292.5 L1171.0,1295.2 L1165.3,1298.0 L1159.5,1300.6 L1153.7,1303.3 L1147.9,1305.9 L1142.0,1308.4 L1136.2,1310.9 L1130.3,1313.4 L1124.3,1315.8 L1118.4,1318.1 L1112.4,1320.4 L1106.5,1322.7 L1100.5,1324.9 L1094.4,1327.1 L1088.4,1329.2 L1082.3,1331.3 L1076.2,1333.3 L1070.2,1335.3 L1064.0,1337.3 L1057.9,1339.2 L1051.8,1341.0 L1045.6,1342.8 L1039.4,1344.5 L1033.2,1346.2 L1027.0,1347.9 L1020.8,1349.5 L1014.6,1351.0 L1008.4,1352.5 L1002.1,1353.9 L995.9,1355.3 L989.6,1356.7 L983.4,1358.0 L977.1,1359.2 L970.8,1360.4 L964.5,1361.5 L958.2,1362.6 L952.0,1363.7 L945.7,1364.7 L939.4,1365.6 L933.1,1366.5 L926.7,1367.3 L920.4,1368.1 L914.1,1368.8 L907.8,1369.5 L901.5,1370.1 L895.2,1370.7 L888.9,1371.2 L882.6,1371.7 L876.4,1372.1 L870.1,1372.5 L863.8,1372.8 L857.5,1373.1 L851.3,1373.3 L845.0,1373.4 L838.7,1373.5 L832.5,1373.6 L826.3,1373.6 L820.1,1373.5 L813.8,1373.4 L807.6,1373.3 L801.5,1373.1 L795.3,1372.8 L789.1,1372.5 L783.0,1372.1 L776.9,1371.7 L770.7,1371.2 L764.6,1370.7 L758.6,1370.2 L752.5,1369.5 L746.5,1368.9 L740.4,1368.1 L734.4,1367.3 L728.4,1366.5 L722.5,1365.6 L716.5,1364.7 L710.6,1363.7 L704.7,1362.7 L698.8,1361.6 L693.0,1360.4 L687.2,1359.2 L681.4,1358.0 L675.6,1356.7 L669.9,1355.4 L664.1,1354.0 L658.5,1352.5 L652.8,1351.0 L647.2,1349.5 L641.6,1347.9 L636.0,1346.3 L630.5,1344.6 L625.0,1342.8 L619.5,1341.0 L614.0,1339.2 L608.6,1337.3 L603.3,1335.4 L597.9,1333.4 L592.6,1331.4 L587.4,1329.3 L582.1,1327.2 L576.9,1325.0 L571.8,1322.8 L566.7,1320.5 L561.6,1318.2 L556.6,1315.8 L551.6,1313.4 L546.6,1311.0 L541.7,1308.5 L536.8,1305.9 L532.0,1303.4 L527.2,1300.7 L522.4,1298.1 L517.7,1295.3 L513.1,1292.6 L508.5,1289.8 L503.9,1286.9 L499.4,1284.0 L494.9,1281.1 L490.5,1278.1 L486.1,1275.1 L481.8,1272.0 L477.5,1268.9 L473.2,1265.8 L469.1,1262.6 L464.9,1259.4 L460.8,1256.1 L456.8,1252.8 L452.8,1249.5 L448.9,1246.1 L445.0,1242.7 L441.2,1239.2 L437.4,1235.7 L433.7,1232.2 L430.0,1228.6 L426.4,1225.0 L422.8,1221.4 L419.3,1217.7 L415.8,1214.0 L412.4,1210.3 L409.1,1206.5 L405.8,1202.7 L402.6,1198.8 L399.4,1194.9 L396.3,1191.0 L393.2,1187.1 L390.2,1183.1 L387.3,1179.1 L384.4,1175.1 L381.6,1171.0 L378.8,1166.9 L376.1,1162.8 L373.5,1158.6 L370.9,1154.4 L368.4,1150.2 L365.9,1146.0 L363.5,1141.7 L361.2,1137.4 L358.9,1133.1 L356.7,1128.7 L354.5,1124.4 L352.4,1120.0 L350.4,1115.5 L348.4,1111.1 L346.5,1106.6 L344.7,1102.1 L342.9,1097.6 L341.2,1093.1 L339.6,1088.5 L338.0,1083.9 L336.4,1079.3 L335.0,1074.7 L333.6,1070.1Z" stroke="#00f" stroke-width="6"/>
</g>
<use href="#xm" x="638.7" y="570.5" stroke="#f00"/>
<use href="#xm" x="920.4" y="898.2" stroke="#00f"/>
<use href="#xm" x="812.3" y="620.9" stroke="#0f0"/>
<use href="#xm" x="801.3" y="643.2" stroke="#000"/>
<use href="#st" x="405.2" y="712.7"/>
<use href="#st" x="422.6" y="693.0"/>
<use href="#st" x="437.4" y="675.7"/>
<use href="#st" x="470.2" y="651.8"/>
<use href="#st" x="481.6" y="636.1"/>
<use href="#st" x="510.2" y="610.3"/>
<use href="#st" x="535.6" y="565.4"/>
<use href="#st" x="561.2" y="560.9"/>
<use href="#st" x="600.1" y="538.6"/>
<use href="#st" x="633.8" y="521.6"/>
<use href="#st" x="667.4" y="502.9"/>
<use href="#st" x="708.6" y="487.2"/>
<use href="#st" x="744.6" y="468.0"/>
<use href="#st" x="791.0" y="460.8"/>
<use href="#st" x="828.2" y="443.7"/>
<use href="#st" x="863.0" y="433.7"/>
<g stroke="#000" stroke-width="2.2" fill="none">
<path d="M147.2,47.4V1119H1337.7"/>
<path d="M135,1119.0H147.2"/>
<path d="M135,1000.1H147.2"/>
<path d="M135,881.1H147.2"/>
<path d="M135,762.2H147.2"/>
<path d="M135,643.2H147.2"/>
<path d="M135,524.3H147.2"/>
<path d="M135,405.4H147.2"/>
<path d="M135,286.4H147.2"/>
<path d="M135,167.5H147.2"/>
<path d="M135,48.5H147.2"/>
<path d="M147.0,1119V1130.5"/>
<path d="M444.4,1119V1130.5"/>
<path d="M741.8,1119V1130.5"/>
<path d="M1039.2,1119V1130.5"/>
<path d="M1336.6,1119V1130.5"/>
</g>
<g font-family="'Liberation Sans', Arial, Helvetica, sans-serif" font-size="41.67" fill="#000">
<text transform="translate(123.2,1134.2) scale(1,1.04)" text-anchor="end">−6</text>
<text transform="translate(123.2,1015.3) scale(1,1.04)" text-anchor="end">−4</text>
<text transform="translate(123.2,896.3) scale(1,1.04)" text-anchor="end">−2</text>
<text transform="translate(123.2,777.4) scale(1,1.04)" text-anchor="end">0</text>
<text transform="translate(123.2,658.4) scale(1,1.04)" text-anchor="end">2</text>
<text transform="translate(123.2,539.5) scale(1,1.04)" text-anchor="end">4</text>
<text transform="translate(123.2,420.6) scale(1,1.04)" text-anchor="end">6</text>
<text transform="translate(123.2,301.6) scale(1,1.04)" text-anchor="end">8</text>
<text transform="translate(123.2,182.7) scale(1,1.04)" text-anchor="end">10</text>
<text transform="translate(123.2,63.7) scale(1,1.04)" text-anchor="end">12</text>
<text transform="translate(135.5,1181.4) scale(1,1.04)" text-anchor="middle">−10</text>
<text transform="translate(432.9,1181.4) scale(1,1.04)" text-anchor="middle">−5</text>
<text transform="translate(741.8,1181.4) scale(1,1.04)" text-anchor="middle">0</text>
<text transform="translate(1039.2,1181.4) scale(1,1.04)" text-anchor="middle">5</text>
<text transform="translate(1336.6,1181.4) scale(1,1.04)" text-anchor="middle">10</text>
<text x="741.5" y="1229.7" text-anchor="middle">x</text>
<text transform="translate(46.8,584) rotate(-90)" text-anchor="middle">y</text>
</g>
<rect x="167.7" y="69.5" width="665.9" height="267.6" fill="#fff" stroke="#000" stroke-width="2.4"/>
<path d="M192.8,101.0H318.6" stroke="#1a1a1a" stroke-width="6.2" fill="none"/>
<path d="M192.8,152.2H318.6" stroke="#999" stroke-width="6.2" fill="none" stroke-dasharray="25 25"/>
<path d="M192.8,203.5H318.6" stroke="#f00" stroke-width="6.2" fill="none"/>
<circle cx="318.6" cy="203.5" r="3.1" fill="#f00"/>
<path d="M192.8,254.5H318.6" stroke="#00f" stroke-width="6.2" fill="none"/>
<circle cx="318.6" cy="254.5" r="3.1" fill="#00f"/>
<path d="M192.8,305.5H318.6" stroke="#0f0" stroke-width="6.2" fill="none"/>
<circle cx="318.6" cy="305.5" r="3.1" fill="#0f0"/>
<g font-family="'Liberation Sans', Arial, Helvetica, sans-serif" font-size="41.67" fill="#000">
<text x="330.8" y="115.8">Original Ellipse</text>
<text x="330.8" y="167.0"><tspan font-style="italic">Centers of Ellipse</tspan>−Line</text>
<text x="330.8" y="218.3">Method of Fitzgibbon et al.</text>
<text x="330.8" y="269.3">Method of Szpak et al.</text>
<text x="330.8" y="320.3">Constrained Fit</text>
</g>
</svg></body></html>
